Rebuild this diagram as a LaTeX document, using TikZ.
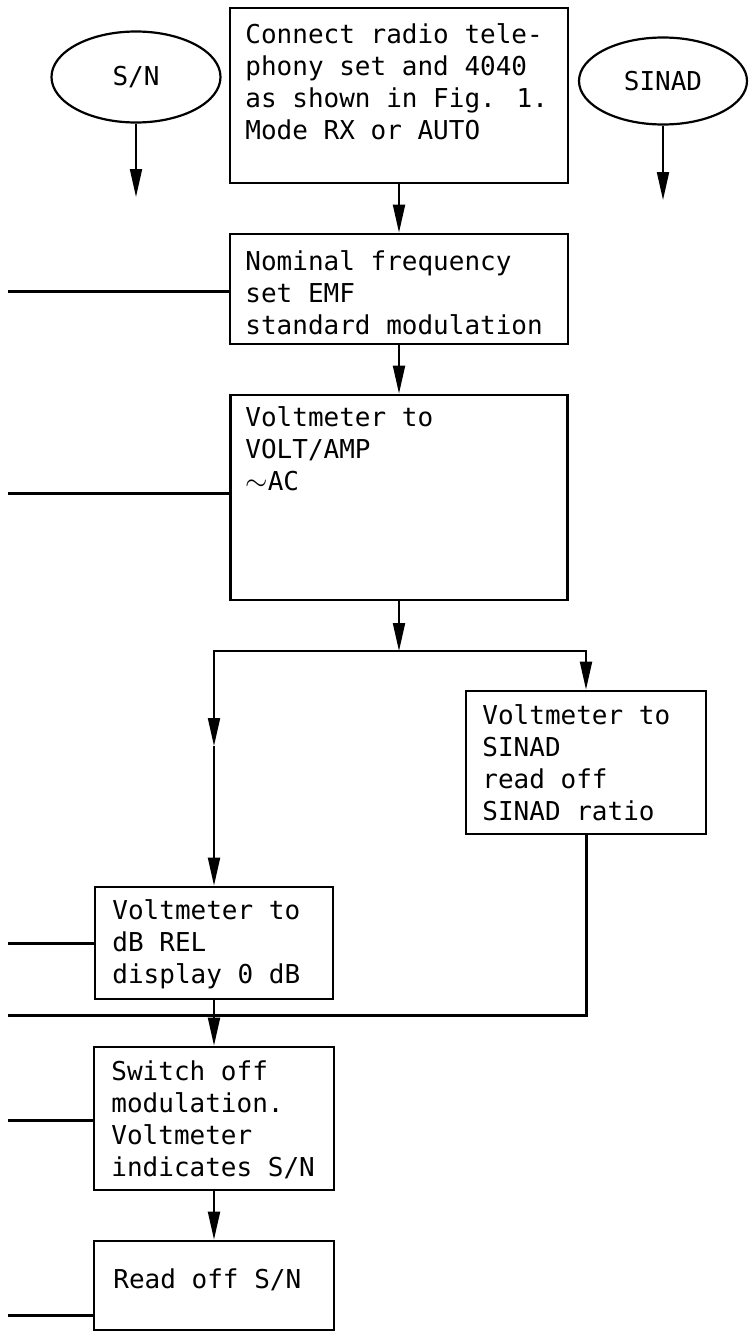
\documentclass[tikz,border=0pt]{standalone}
\usepackage{fontspec}
\newfontfamily\typefont{DejaVu Sans Mono}
\usetikzlibrary{arrows.meta, shapes.geometric}

\begin{document}
\begin{tikzpicture}[
    x=0.5pt, y=-0.5pt,
    flowbox/.style={draw, line width=1.4pt, inner sep=0pt},
    startoval/.style={ellipse, draw, line width=1.1pt, inner sep=0pt,
                      font=\typefont\fontsize{13pt}{16pt}\selectfont},
    boxtext/.style={anchor=north west, inner sep=0pt, align=left,
                    font=\typefont\fontsize{13pt}{16pt}\selectfont},
    flowline/.style={-{Triangle[length=14pt, width=6pt]}, line width=1pt},
    sideline/.style={line width=1.5pt},
  ]

  \useasboundingbox (0,0) rectangle (751,1338);

  % =========================================================
  %  START OVALS
  % =========================================================
  \node[startoval, minimum width=84.5pt, minimum height=45.5pt]
    (snoval) at (136,77) {S/N};
  \node[startoval, minimum width=84pt, minimum height=43.5pt]
    (sinadoval) at (663,81) {SINAD};
  \coordinate (snEnd)    at (136,197);
  \coordinate (sinadEnd) at (663,200);
  \draw[flowline] (snoval.south) -- (snEnd);
  \draw[flowline] (sinadoval.south) -- (sinadEnd);

  % =========================================================
  %  BOXES (frame + text)
  % =========================================================
  \node[flowbox, minimum width=169pt, minimum height=87.5pt]
    (connect) at (399,95.5) {};
  \node[boxtext] (connect-t) at (245,23)
    {Connect radio tele-\\phony set and 4040\\as shown in Fig. 1.\\Mode RX or AUTO};

  \node[flowbox, minimum width=169pt, minimum height=55pt]
    (nominal) at (399,289) {};
  \node[boxtext] (nominal-t) at (245,250)
    {Nominal frequency\\set EMF\\standard modulation};

  \node[flowbox, minimum width=168.5pt, minimum height=102.5pt]
    (voltamp) at (399,497.5) {};
  \node[boxtext] (voltamp-t) at (245,406)
    {Voltmeter to\\VOLT/AMP\\{\fontsize{15pt}{16pt}\selectfont$\sim$}AC};

  \node[flowbox, minimum width=120pt, minimum height=71.5pt]
    (sinadbox) at (586,762.5) {};
  \node[boxtext] (sinadbox-t) at (482,704)
    {Voltmeter to\\SINAD\\read off\\SINAD ratio};

  \node[flowbox, minimum width=119pt, minimum height=56pt]
    (dbrel) at (214,943) {};
  \node[boxtext] (dbrel-t) at (112,899)
    {Voltmeter to\\dB REL\\display 0 dB};

  \node[flowbox, minimum width=120pt, minimum height=71.5pt]
    (switchoff) at (214,1118.5) {};
  \node[boxtext] (switchoff-t) at (111,1060)
    {Switch off\\modulation.\\Voltmeter\\indicates S/N};

  \node[flowbox, minimum width=120pt, minimum height=44.5pt]
    (readoff) at (214,1285.5) {};
  \node[boxtext] (readoff-t) at (113,1268) {Read off S/N};

  % =========================================================
  %  MAIN FLOW
  % =========================================================
  \draw[flowline] (connect.south) -- (nominal.north);
  \draw[flowline] (nominal.south) -- (voltamp.north);

  % split into the two branches
  \coordinate (split) at (399,651);
  \coordinate (lmid)  at (214,746);
  \draw[flowline] (voltamp.south) -- (split);
  \draw[flowline] (split) -| (lmid);
  \draw[flowline] (lmid) -- (dbrel.north);
  \draw[flowline] (split) -| (sinadbox.north);

  % SINAD branch returns to the left edge
  \coordinate (retEnd) at (8,1015);
  \draw[sideline] (sinadbox.south) |- (retEnd);

  \draw[flowline] (dbrel.south) -- (switchoff.north);
  \draw[flowline] (switchoff.south) -- (readoff.north);

  % side lines to the left edge
  \foreach \nm/\yy in {nominal/291, voltamp/493, dbrel/943,
                       switchoff/1120, readoff/1315}{
    \coordinate (\nm-out) at (8,\yy);
    \draw[sideline] (\nm-out) -- (\nm-out -| \nm.west);
  }

\end{tikzpicture}
\end{document}
